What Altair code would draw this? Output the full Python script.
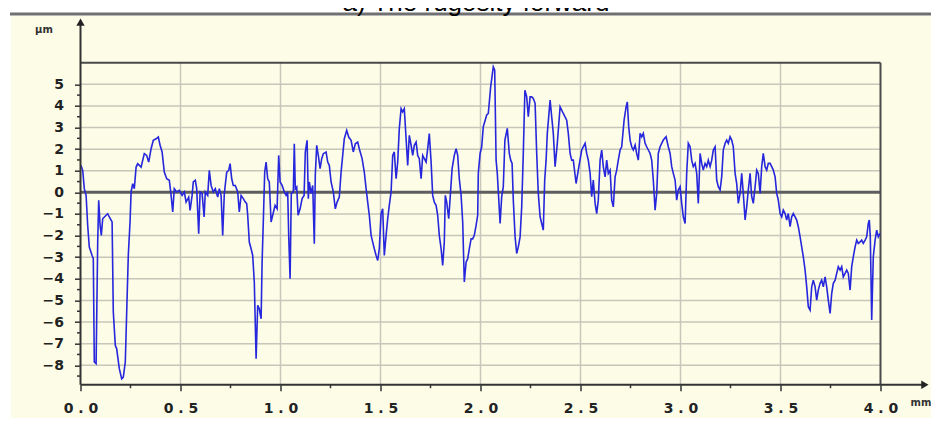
import altair as alt
import pandas as pd

# ---- profile data (position in mm, height in µm) ----
x_mm = [
    0.002, 0.011, 0.019, 0.028, 0.036, 0.044, 0.058, 0.064, 0.069, 0.078,
    0.086, 0.091, 0.098, 0.104, 0.111, 0.128, 0.136, 0.144, 0.158, 0.164,
    0.174, 0.181, 0.194, 0.206, 0.214, 0.224, 0.231, 0.239, 0.248, 0.253,
    0.261, 0.269, 0.278, 0.286, 0.303, 0.319, 0.331, 0.341, 0.353, 0.364,
    0.378, 0.389, 0.398, 0.408, 0.419, 0.431, 0.444, 0.453, 0.461, 0.469,
    0.481, 0.494, 0.508, 0.519, 0.528, 0.541, 0.548, 0.558, 0.564, 0.574,
    0.581, 0.591, 0.598, 0.608, 0.618, 0.624, 0.636, 0.644, 0.653, 0.664,
    0.674, 0.686, 0.694, 0.703, 0.711, 0.719, 0.731, 0.741, 0.748, 0.756,
    0.764, 0.774, 0.786, 0.794, 0.803, 0.814, 0.824, 0.831, 0.836, 0.844,
    0.853, 0.861, 0.869, 0.878, 0.886, 0.894, 0.903, 0.908, 0.914, 0.921,
    0.928, 0.936, 0.944, 0.953, 0.961, 0.973,
    0.983, 0.991, 0.998, 1.008, 1.019, 1.028, 1.036, 1.041, 1.048, 1.054,
    1.064, 1.069, 1.074, 1.081, 1.088, 1.098, 1.108, 1.118, 1.124, 1.133,
    1.139, 1.144, 1.153, 1.161, 1.169, 1.174, 1.181, 1.189, 1.198, 1.206,
    1.214, 1.228, 1.236, 1.244, 1.253, 1.264, 1.274, 1.283, 1.294, 1.303,
    1.311, 1.319, 1.331, 1.341, 1.353, 1.364, 1.374, 1.386, 1.394, 1.408,
    1.419, 1.428, 1.436, 1.444, 1.453, 1.461, 1.469, 1.478, 1.486, 1.494,
    1.503, 1.511, 1.519, 1.528, 1.536, 1.544, 1.553, 1.561, 1.569, 1.578,
    1.586, 1.594, 1.603, 1.611, 1.619, 1.628, 1.636, 1.644, 1.653, 1.661,
    1.669, 1.678, 1.686, 1.694, 1.703, 1.711, 1.719, 1.728, 1.736, 1.744,
    1.753, 1.761, 1.769, 1.778, 1.786, 1.794, 1.803, 1.811, 1.819, 1.824,
    1.831, 1.841, 1.848, 1.858, 1.869, 1.878, 1.886, 1.894, 1.903, 1.911,
    1.919, 1.928, 1.936, 1.944, 1.953, 1.961, 1.969, 1.978, 1.986,
    1.989, 1.998, 2.006, 2.014, 2.031, 2.039, 2.051, 2.064, 2.071, 2.078,
    2.084, 2.098, 2.106, 2.114, 2.122, 2.134, 2.144, 2.151, 2.158, 2.164,
    2.173, 2.181, 2.189, 2.198, 2.206, 2.214, 2.222, 2.231, 2.239, 2.248,
    2.256, 2.264, 2.273, 2.281, 2.289, 2.298, 2.306, 2.314, 2.321, 2.328,
    2.334, 2.348, 2.356, 2.364, 2.373, 2.384, 2.398, 2.414, 2.431, 2.439,
    2.448, 2.456, 2.464, 2.478, 2.489, 2.506, 2.523, 2.531, 2.539, 2.548,
    2.556, 2.564, 2.573, 2.581, 2.589, 2.598, 2.606, 2.614, 2.623, 2.631,
    2.639, 2.648, 2.656, 2.664, 2.673, 2.681, 2.689, 2.698, 2.706, 2.718,
    2.728, 2.734, 2.741, 2.748, 2.756, 2.764, 2.773, 2.781, 2.789, 2.798,
    2.806, 2.814, 2.823, 2.831, 2.848, 2.856, 2.864, 2.873, 2.881, 2.889,
    2.898, 2.906, 2.914, 2.928, 2.939, 2.948, 2.956, 2.964, 2.973, 2.981,
    2.989, 2.998, 3.006, 3.014, 3.023, 3.031, 3.039, 3.048, 3.056, 3.064,
    3.073, 3.081, 3.089, 3.098, 3.106, 3.114, 3.123, 3.131, 3.139, 3.148,
    3.156, 3.164, 3.173, 3.181, 3.189, 3.198, 3.206, 3.214, 3.223, 3.231,
    3.239, 3.248, 3.256, 3.264, 3.273, 3.281, 3.289, 3.298, 3.306, 3.314,
    3.323, 3.331, 3.339, 3.348, 3.356, 3.364, 3.373, 3.381, 3.389, 3.398,
    3.406, 3.414, 3.423, 3.431, 3.439, 3.448, 3.456, 3.464, 3.473, 3.481,
    3.489, 3.498, 3.506, 3.514, 3.523, 3.531, 3.539, 3.548, 3.556, 3.564,
    3.573, 3.581, 3.589, 3.598, 3.606, 3.614, 3.623, 3.631, 3.639, 3.648,
    3.656, 3.664, 3.673, 3.681, 3.689, 3.698, 3.706, 3.714, 3.723, 3.731,
    3.739, 3.748, 3.756, 3.764, 3.773, 3.781, 3.789, 3.798, 3.806, 3.814,
    3.823, 3.831, 3.839, 3.848, 3.856, 3.864, 3.873, 3.881, 3.889, 3.898,
    3.906, 3.914, 3.923, 3.931, 3.939, 3.944, 3.949, 3.956, 3.964, 3.973,
    3.981, 3.989, 3.998,
]
y_um = [
    1.25, 1.02, 0.17, -0.14, -1.53, -2.53, -2.92, -3.07, -7.85, -7.93,
    -2.30, -0.37, -1.53, -1.99, -1.22, -1.06, -0.99, -1.14, -1.37, -5.54,
    -7.08, -7.24, -8.16, -8.63, -8.55, -7.85, -5.54, -2.92, -1.30, 0.02,
    0.40, 0.17, 1.17, 1.33, 1.17, 1.79, 1.71, 1.40, 2.02, 2.41,
    2.48, 2.56, 2.18, 1.87, 0.94, 0.63, 0.56, -0.14, -0.91, 0.17,
    0.02, 0.09, -0.14, 0.02, -0.45, -0.22, -0.83, -0.14, 0.48, 0.56,
    0.17, -1.91, 0.02, -0.06, -1.14, 0.02, -0.14, 1.02, 0.32, 0.02,
    0.17, -0.22, 0.17, -0.14, -1.99, -0.06, 0.94, 1.02, 1.33, 0.63,
    0.32, 0.32, 0.02, -0.91, -0.14, -0.29, -0.45, -0.52, -1.06, -2.30,
    -2.61, -2.92, -4.15, -7.70, -5.23, -5.39, -5.85, -3.23, -1.37, 0.94,
    1.40, 0.63, 0.48, -1.37, -1.06, -0.60,
    -0.76, 1.71, 0.48, 0.32, 0.02, -0.14, 0.02, -1.99, -4.00, -0.06,
    0.02, 2.25, 0.17, 0.25, -1.06, -0.76, -0.29, -0.14, 1.87, 2.41,
    -0.29, 0.48, -0.06, 0.32, -2.38, 0.79, 2.18, 1.71, 1.10, 1.56,
    1.79, 1.87, 1.40, 1.25, 0.48, 0.02, -0.76, -0.45, -0.22, 0.94,
    1.71, 2.48, 2.87, 2.56, 2.41, 1.87, 2.25, 2.33, 2.02, 1.56,
    0.94, 0.17, -0.45, -1.06, -1.99, -2.30, -2.61, -2.92, -3.15, -2.61,
    -0.99, -0.76, -2.92, -1.99, -1.22, -0.60, 0.02, 1.71, 1.87, 0.63,
    1.40, 2.95, 3.87, 3.72, 3.87, 2.48, 1.25, 2.64, 2.18, 1.71,
    2.18, 2.33, 1.71, 1.56, 0.63, 1.71, 1.56, 1.40, 2.02, 2.72,
    1.40, -0.14, -0.45, -0.60, -1.06, -1.99, -2.61, -3.38, -2.30, -0.14,
    -0.45, -1.22, -0.29, 1.10, 1.71, 2.02, 1.71, 0.63, -0.14, -1.37,
    -4.15, -3.23, -3.07, -2.61, -2.15, -2.15, -1.99, -1.53, -1.06,
    0.88, 1.80, 2.11, 3.04, 3.58, 3.65, 4.89, 5.81, 5.66, 1.49,
    0.88, -1.44, -0.20, 0.26, 2.42, 2.96, 1.80, 1.49, 1.34, -0.36,
    -2.06, -2.83, -2.52, -2.06, -0.67, 1.80, 4.73, 4.42, 3.50, 4.42,
    4.42, 4.35, 4.12, 1.80, -0.05, -1.13, -1.44, -1.75, 0.57, 1.49,
    2.73, 4.27, 3.50, 2.73, 1.19, 2.27, 3.96, 3.65, 3.34, 2.73,
    1.80, 1.49, 1.49, 0.41, 1.03, 1.96, 2.27, 1.80, 1.49, 0.88,
    -0.20, 0.57, -0.51, -0.98, -0.36, 1.49, 1.96, 1.19, 0.72, 1.49,
    0.88, 1.03, -0.36, -0.67, 0.72, 1.03, 1.49, 1.96, 2.11, 3.34,
    3.96, 4.19, 3.04, 2.42, 2.11, 1.96, 2.19, 1.80, 1.49, 2.73,
    2.57, 2.73, 2.27, 2.11, 1.80, 1.49, 0.57, -0.82, -0.05, 1.80,
    2.11, 2.27, 2.42, 2.57, 2.11, 1.80, 1.19, 0.88, 0.57, -0.36,
    0.11, 0.26, -0.51, -1.13, -1.44, 0.88, 2.27, 2.11, 1.49, 1.19,
    1.34, 0.88, -0.51, 1.80, 1.34, 1.03, 1.34, 1.19, 1.49, 1.19,
    1.49, 1.96, 2.11, 0.57, 0.26, 0.11, 0.72, 1.96, 2.27, 2.42,
    2.27, 2.57, 2.42, 2.11, 0.88, 0.41, -0.51, -0.05, 0.88, -0.05,
    -1.28, -0.67, 0.11, 0.88, -0.20, -0.51, 0.26, 1.03, 0.88, -0.05,
    1.19, 1.80, 1.19, 1.03, 1.34, 1.34, 1.19, 1.03, 0.72, -0.05,
    -0.36, -0.98, -1.13, -0.82, -0.98, -1.28, -0.98, -1.59, -1.13, -0.98,
    -1.13, -1.28, -1.59, -2.06, -2.52, -2.98, -3.60, -4.37, -5.29, -5.45,
    -4.37, -4.06, -4.37, -4.99, -4.52, -4.21, -4.06, -4.37, -3.91, -4.37,
    -4.99, -5.60, -4.68, -4.21, -4.06, -3.75, -3.44, -3.60, -3.44, -3.91,
    -3.75, -3.60, -3.75, -4.52, -3.44, -2.98, -2.52, -2.21, -2.36, -2.29,
    -2.21, -2.36, -2.21, -2.06, -1.44, -1.28, -2.06, -5.91, -2.98, -2.21,
    -1.75, -2.06, -1.90,
]

# ---- axis / grid definitions ----
x_grid = [0.5, 1.0, 1.5, 2.0, 2.5, 3.0, 3.5]
y_grid = [-8, -7, -6, -5, -4, -3, -2, -1, 1, 2, 3, 4, 5]
x_major = [0.0, 0.5, 1.0, 1.5, 2.0, 2.5, 3.0, 3.5, 4.0]
x_minor = [0.25, 0.75, 1.25, 1.75, 2.25, 2.75, 3.25, 3.75]
y_major = [-8, -7, -6, -5, -4, -3, -2, -1, 0, 1, 2, 3, 4, 5]
y_minor = [-8.5, -7.5, -6.5, -5.5, -4.5, -3.5, -2.5, -1.5, -0.5, 0.5,
           1.5, 2.5, 3.5, 4.5]
title_text = "a) The rugosity forward"
y_unit = "µm"
x_unit = "mm"

X_MIN, X_MAX = 0.0, 4.0
Y_MIN, Y_MAX = -8.9, 6.0
X_AXIS_END = 4.222   # where the x axis arrow sits
Y_AXIS_END = 7.88    # where the y axis arrow sits

W, H = 800, 322
YELLOW = "#fdfde7"

xs = alt.Scale(domain=[X_MIN, X_MAX], nice=False, zero=False)
ys = alt.Scale(domain=[Y_MIN, Y_MAX], nice=False, zero=False)

x_axis = alt.Axis(
    values=x_major, domain=False, grid=False, zindex=2,
    tickColor="#333", tickWidth=1.5, tickSize=6,
    labelExpr="replace(format(datum.value, '.1f'), '.', ' . ')",
    labelFont="DejaVu Sans", labelFontWeight="bold", labelFontSize=14,
    labelColor="#222", labelPadding=11, labelOverlap=False, labelFlush=False,
)
y_axis = alt.Axis(
    values=y_major, domain=False, grid=False, zindex=2,
    tickColor="#333", tickWidth=1.5, tickSize=6, format="d",
    labelFont="DejaVu Sans", labelFontWeight="bold", labelFontSize=14,
    labelColor="#222", labelPadding=11, labelOverlap=False, labelFlush=False,
)


def X(field):
    return alt.X(field, scale=xs, title=None, axis=x_axis)


def Y(field):
    return alt.Y(field, scale=ys, title=None, axis=y_axis)


one = pd.DataFrame({"k": [0]})
profile = pd.DataFrame({"x": x_mm, "y": y_um})

# page background panel and top separator line
panel = alt.Chart(one).mark_rect(color=YELLOW).encode(
    x=alt.value(-69.5), x2=alt.value(860), y=alt.value(-46.7), y2=alt.value(380)
)
sep = alt.Chart(one).mark_rule(color="#707070", strokeWidth=3).encode(
    x=alt.value(-70.5), x2=alt.value(860), y=alt.value(-48.7)
)
title = alt.Chart(one).mark_text(
    text=title_text, font="Liberation Sans", fontSize=26, color="#000",
    align="center", baseline="alphabetic"
).encode(x=alt.value(395.5), y=alt.value(-52.2))

vgrid = alt.Chart(pd.DataFrame({"x": x_grid, "y": Y_MIN, "y2": Y_MAX})).mark_rule(
    color="#c6c6ba", strokeWidth=1.5
).encode(x=X("x:Q"), y=Y("y:Q"), y2="y2:Q")
hgrid = alt.Chart(pd.DataFrame({"y": y_grid, "x": X_MIN, "x2": X_MAX})).mark_rule(
    color="#c6c6ba", strokeWidth=1.5
).encode(y=Y("y:Q"), x=X("x:Q"), x2="x2:Q")

# zero line and frame top
zero_line = alt.Chart(pd.DataFrame({"y": [0.0], "x": [X_MIN], "x2": [X_MAX]})).mark_rule(
    color="#5e5e5e", strokeWidth=3
).encode(y=Y("y:Q"), x=X("x:Q"), x2="x2:Q")
frame_top = alt.Chart(pd.DataFrame({"y": [Y_MAX], "x": [X_MIN], "x2": [X_MAX]})).mark_rule(
    color="#4a4a4a", strokeWidth=2
).encode(y=Y("y:Q"), x=X("x:Q"), x2="x2:Q")
frame_right = alt.Chart(pd.DataFrame({"x": [X_MAX], "y": [Y_MIN], "y2": [Y_MAX]})).mark_rule(
    color="#4a4a4a", strokeWidth=2
).encode(x=X("x:Q"), y=Y("y:Q"), y2="y2:Q")

line = alt.Chart(profile).mark_line(color="#2626dc", strokeWidth=1.6).encode(
    x=X("x:Q"), y=Y("y:Q")
)

# minor ticks
xminor = alt.Chart(pd.DataFrame({"x": x_minor, "y": Y_MIN})).mark_rule(
    color="#333", strokeWidth=1.5, y2Offset=3.5
).encode(x=X("x:Q"), y=Y("y:Q"), y2="y:Q")
yminor = alt.Chart(pd.DataFrame({"y": y_minor, "x": X_MIN})).mark_rule(
    color="#333", strokeWidth=1.5, x2Offset=-3.5
).encode(y=Y("y:Q"), x=X("x:Q"), x2="x:Q")

# axis lines with arrows
x_axis_line = alt.Chart(pd.DataFrame({"x": [X_MIN], "x2": [X_AXIS_END], "y": [Y_MIN]})).mark_rule(
    color="#333", strokeWidth=2
).encode(y=Y("y:Q"), x=X("x:Q"), x2="x2:Q")
y_axis_line = alt.Chart(pd.DataFrame({"x": [X_MIN], "y": [Y_MIN], "y2": [Y_AXIS_END]})).mark_rule(
    color="#333", strokeWidth=2
).encode(x=X("x:Q"), y=Y("y:Q"), y2="y2:Q")
y_arrow = alt.Chart(pd.DataFrame({"x": [X_MIN], "y": [Y_AXIS_END]})).mark_point(
    shape="triangle-up", filled=True, color="#222", size=70, opacity=1
).encode(x=X("x:Q"), y=Y("y:Q"))
x_arrow = alt.Chart(pd.DataFrame({"x": [X_AXIS_END], "y": [Y_MIN]})).mark_point(
    shape="triangle-right", filled=True, color="#222", size=70, opacity=1
).encode(x=X("x:Q"), y=Y("y:Q"))

y_unit_txt = alt.Chart(one).mark_text(
    text=y_unit, font="DejaVu Sans", fontWeight="bold", fontSize=10,
    color="#333", align="center", baseline="alphabetic"
).encode(x=alt.value(-36.5), y=alt.value(-29.7))
x_unit_txt = alt.Chart(one).mark_text(
    text=x_unit, font="DejaVu Sans", fontWeight="bold", fontSize=10,
    color="#333", align="center", baseline="alphabetic"
).encode(x=alt.value(840.5), y=alt.value(343))

chart = alt.layer(
    panel, sep, title, vgrid, hgrid, zero_line, frame_top, frame_right,
    line, xminor, yminor, x_axis_line, y_axis_line, y_arrow, x_arrow,
    y_unit_txt, x_unit_txt
).properties(
    width=W, height=H,
    autosize=alt.AutoSizeParams(type="none"),
    padding={"left": 72.5, "top": 54.7, "right": 50.5, "bottom": 33.3},
    background="white",
).configure_view(stroke=None)

chart.save("out.html", embed_options={"renderer": "svg", "actions": False})
